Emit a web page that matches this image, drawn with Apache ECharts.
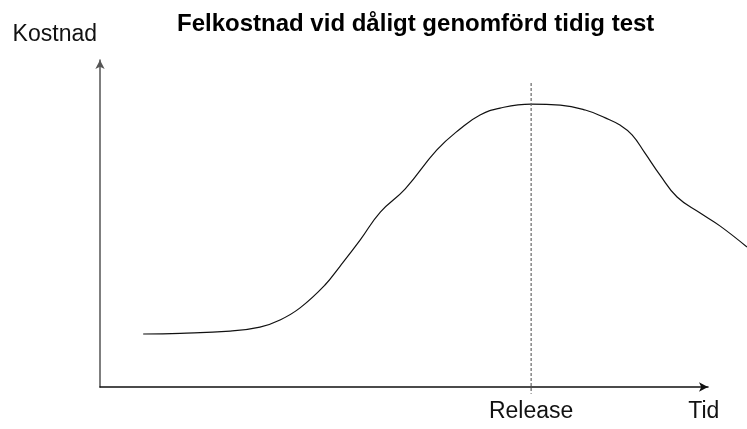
<!DOCTYPE html>
<html>
<head>
<meta charset="utf-8">
<script src="https://cdn.jsdelivr.net/npm/echarts@6/dist/echarts.min.js"></script>
<style>
  html, body { margin: 0; padding: 0; background: #fff; }
  #chart { width: 747px; height: 429px; }
</style>
</head>
<body>
<div id="chart"></div>
<script>
// tid (0-100 along the axis) and kostnad (0-100)
var tid = [7.1, 13.2, 21.4, 26.3, 29.6, 32.9, 37.0, 39.5, 42.8, 46.1, 50.2, 55.4, 59.2, 62.5, 65.8, 70.9, 75.7, 79.8, 83.1, 85.5, 87.5, 89.6, 92.1, 94.9, 98.7, 102.0, 106.4];
var kostnad = [16.2, 16.4, 17.1, 18.3, 20.5, 24.2, 31.2, 37.0, 45.0, 53.5, 60.6, 72.5, 78.9, 83.2, 85.3, 86.5, 86.2, 84.7, 82.3, 80.1, 77.1, 71.6, 64.8, 58.1, 53.2, 49.2, 42.8];

// dashed "Release" marker
var releaseAt = 70.9;
var releaseFrom = 93;
var releaseTo = -2.1;

var xLabelValues = [70.9, 99.3];
var xLabelTexts = ["Release", "Tid"];

var chart = echarts.init(document.getElementById("chart"));

var points = tid.map(function (t, i) {
  return [t, kostnad[i]];
});

var font = "Liberation Sans, Arial, sans-serif";

chart.setOption({
  animation: false,
  textStyle: { fontFamily: font },
  title: {
    text: "Felkostnad vid dåligt genomförd tidig test",
    left: 172,
    top: 7,
    textStyle: { fontFamily: font, fontSize: 24, fontWeight: "bold", color: "#000" }
  },
  // grid 0 holds the visible axes, grid 1 lets the curve run past the arrow
  grid: [
    { left: 100, right: 39, top: 60, bottom: 42 },
    { left: 100, right: 0, top: 60, bottom: 32 }
  ],
  xAxis: [
    {
      type: "value",
      gridIndex: 0,
      min: 0,
      max: 100,
      splitLine: { show: false },
      axisTick: { show: false },
      axisLine: {
        lineStyle: { color: "#111", width: 1.5 },
        symbol: ["none", "arrow"],
        symbolSize: [7, 9]
      },
      axisLabel: {
        customValues: xLabelValues,
        margin: 13,
        fontSize: 23,
        color: "#111",
        formatter: function (v) {
          var i = xLabelValues.indexOf(v);
          return i >= 0 ? xLabelTexts[i] : "";
        }
      }
    },
    {
      type: "value",
      gridIndex: 1,
      min: 0,
      max: 106.4,
      show: false
    }
  ],
  yAxis: [
    {
      type: "value",
      gridIndex: 0,
      min: 0,
      max: 100,
      name: "Kostnad",
      nameLocation: "end",
      nameGap: 14,
      nameTextStyle: { fontSize: 23, color: "#111", align: "right", padding: [0, 3, 0, 0] },
      splitLine: { show: false },
      axisTick: { show: false },
      axisLabel: { show: false },
      axisLine: {
        lineStyle: { color: "#555", width: 1.5 },
        symbol: ["none", "arrow"],
        symbolSize: [7, 9]
      }
    },
    {
      type: "value",
      gridIndex: 1,
      min: -3.06,
      max: 100,
      show: false
    }
  ],
  series: [
    {
      type: "line",
      xAxisIndex: 1,
      yAxisIndex: 1,
      data: points,
      smooth: 0.45,
      showSymbol: false,
      lineStyle: { color: "#111", width: 1.2 }
    },
    {
      type: "line",
      xAxisIndex: 1,
      yAxisIndex: 1,
      data: [[releaseAt, releaseFrom], [releaseAt, releaseTo]],
      showSymbol: false,
      silent: true,
      lineStyle: { color: "#666", type: [3, 2], width: 1.2 }
    }
  ]
});
</script>
</body>
</html>
